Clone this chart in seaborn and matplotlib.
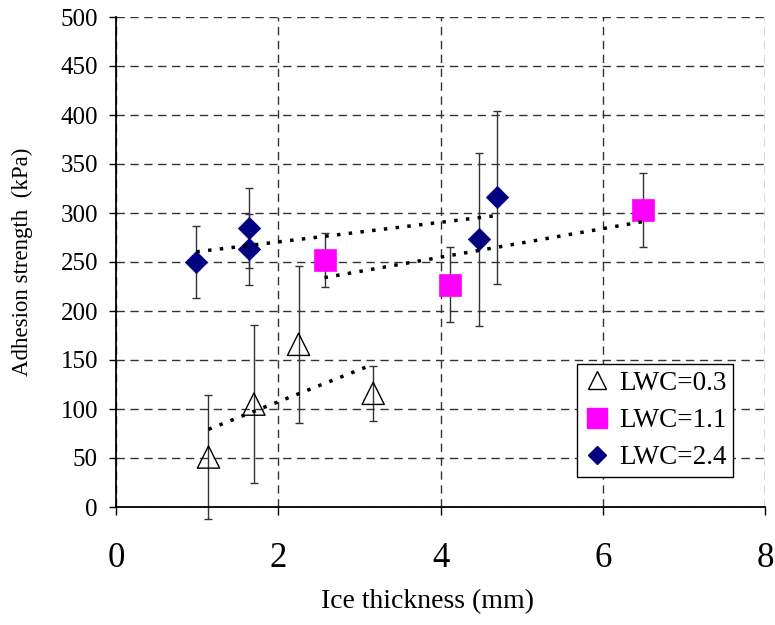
import numpy as np
import pandas as pd
import matplotlib
matplotlib.use("Agg")
import matplotlib.pyplot as plt
from matplotlib.lines import Line2D
import seaborn as sns

# ---- data ----
lwc03_x = [1.14, 1.70, 2.25, 3.17]
lwc03_y = [51, 105, 166, 116]
lwc03_err = [63, 81, 80, 28]

lwc11_x = [2.57, 4.12, 6.50]
lwc11_y = [252, 227, 303]
lwc11_err = [28, 38, 38]

lwc24_x = [0.99, 1.64, 1.64, 4.48, 4.70]
lwc24_y = [250, 285, 263, 273, 316]
lwc24_err = [37, 41, 36, 88, 88]

series_labels = ["LWC=0.3", "LWC=1.1", "LWC=2.4"]
x_ticks = [0, 2, 4, 6, 8]
y_ticks = list(range(0, 501, 50))

sns.set_style("white")
plt.rcParams["font.family"] = ["Liberation Serif", "DejaVu Serif"]
plt.rcParams["text.color"] = "black"
plt.rcParams["axes.labelcolor"] = "black"

fig = plt.figure(figsize=(7.75, 6.25), dpi=100)
ax = fig.add_axes([0.1497, 0.1888, 0.8374, 0.784])

series = [
    (lwc03_x, lwc03_y, lwc03_err, dict(marker="^", s=256, facecolor="none",
                                       edgecolor="black", linewidth=1.0)),
    (lwc11_x, lwc11_y, lwc11_err, dict(marker="s", s=272, color="#FF00FF",
                                       edgecolor="#FF00FF", linewidth=0.5)),
    (lwc24_x, lwc24_y, lwc24_err, dict(marker="D", s=130, color="#000080",
                                       edgecolor="#000080", linewidth=0.5)),
]

for xs, ys, es, style in series:
    cont = ax.errorbar(xs, ys, yerr=es, fmt="none", ecolor="#333333",
                       elinewidth=1.0, capsize=3, capthick=1.0, zorder=2)
    for art in list(cont.lines[1]) + list(cont.lines[2]):
        art.set_clip_on(False)
    df = pd.DataFrame({"x": xs, "y": ys})
    sns.scatterplot(data=df, x="x", y="y", ax=ax, zorder=3, legend=False,
                    clip_on=False, **style)
    sns.regplot(data=df, x="x", y="y", ax=ax, scatter=False, ci=None,
                truncate=True,
                line_kws=dict(color="black", lw=2.5, linestyle=(0, (1, 2.4)),
                              zorder=4))

ax.set_xlim(0, 8)
ax.set_ylim(0, 500)
ax.set_xticks(x_ticks)
ax.set_yticks(y_ticks)
ax.set_xticklabels([str(t) for t in x_ticks])
ax.set_yticklabels([str(t) for t in y_ticks])

ax.grid(True, color="#333333", linestyle=(0, (6, 4)), linewidth=1.0)
ax.set_axisbelow(True)

for side in ["top", "right"]:
    ax.spines[side].set_visible(False)
for side in ["left", "bottom"]:
    ax.spines[side].set_color("black")
    ax.spines[side].set_linewidth(1.3)

ax.tick_params(axis="x", direction="out", length=5.5, width=1, colors="black",
               labelsize=25, pad=20, bottom=True)
ax.tick_params(axis="y", direction="out", length=5, width=1, colors="black",
               labelsize=18, pad=8, left=True)

ax.set_xlabel("Ice thickness (mm)", fontsize=20, color="black")
ax.set_ylabel("Adhesion strength  (kPa)", fontsize=16.5, color="black")
ax.xaxis.set_label_coords(0.48, -0.168)
ax.yaxis.set_label_coords(-0.128, 0.5)

handles = [
    Line2D([], [], linestyle="none", marker="^", markersize=13,
           markerfacecolor="none", markeredgecolor="black", markeredgewidth=1),
    Line2D([], [], linestyle="none", marker="s", markersize=14,
           markerfacecolor="#FF00FF", markeredgecolor="#FF00FF"),
    Line2D([], [], linestyle="none", marker="D", markersize=9.5,
           markerfacecolor="#000080", markeredgecolor="#000080"),
]
leg = ax.legend(handles, series_labels, loc="lower right",
                bbox_to_anchor=(0.951, 0.061), borderaxespad=0,
                fontsize=19.5, frameon=True, fancybox=False, framealpha=1,
                edgecolor="black", handlelength=1.0, handletextpad=0.3,
                labelspacing=0.45, borderpad=0.25)
leg.get_frame().set_linewidth(1.0)
for t in leg.get_texts():
    t.set_color("black")

fig.savefig("out.png", dpi=100)
